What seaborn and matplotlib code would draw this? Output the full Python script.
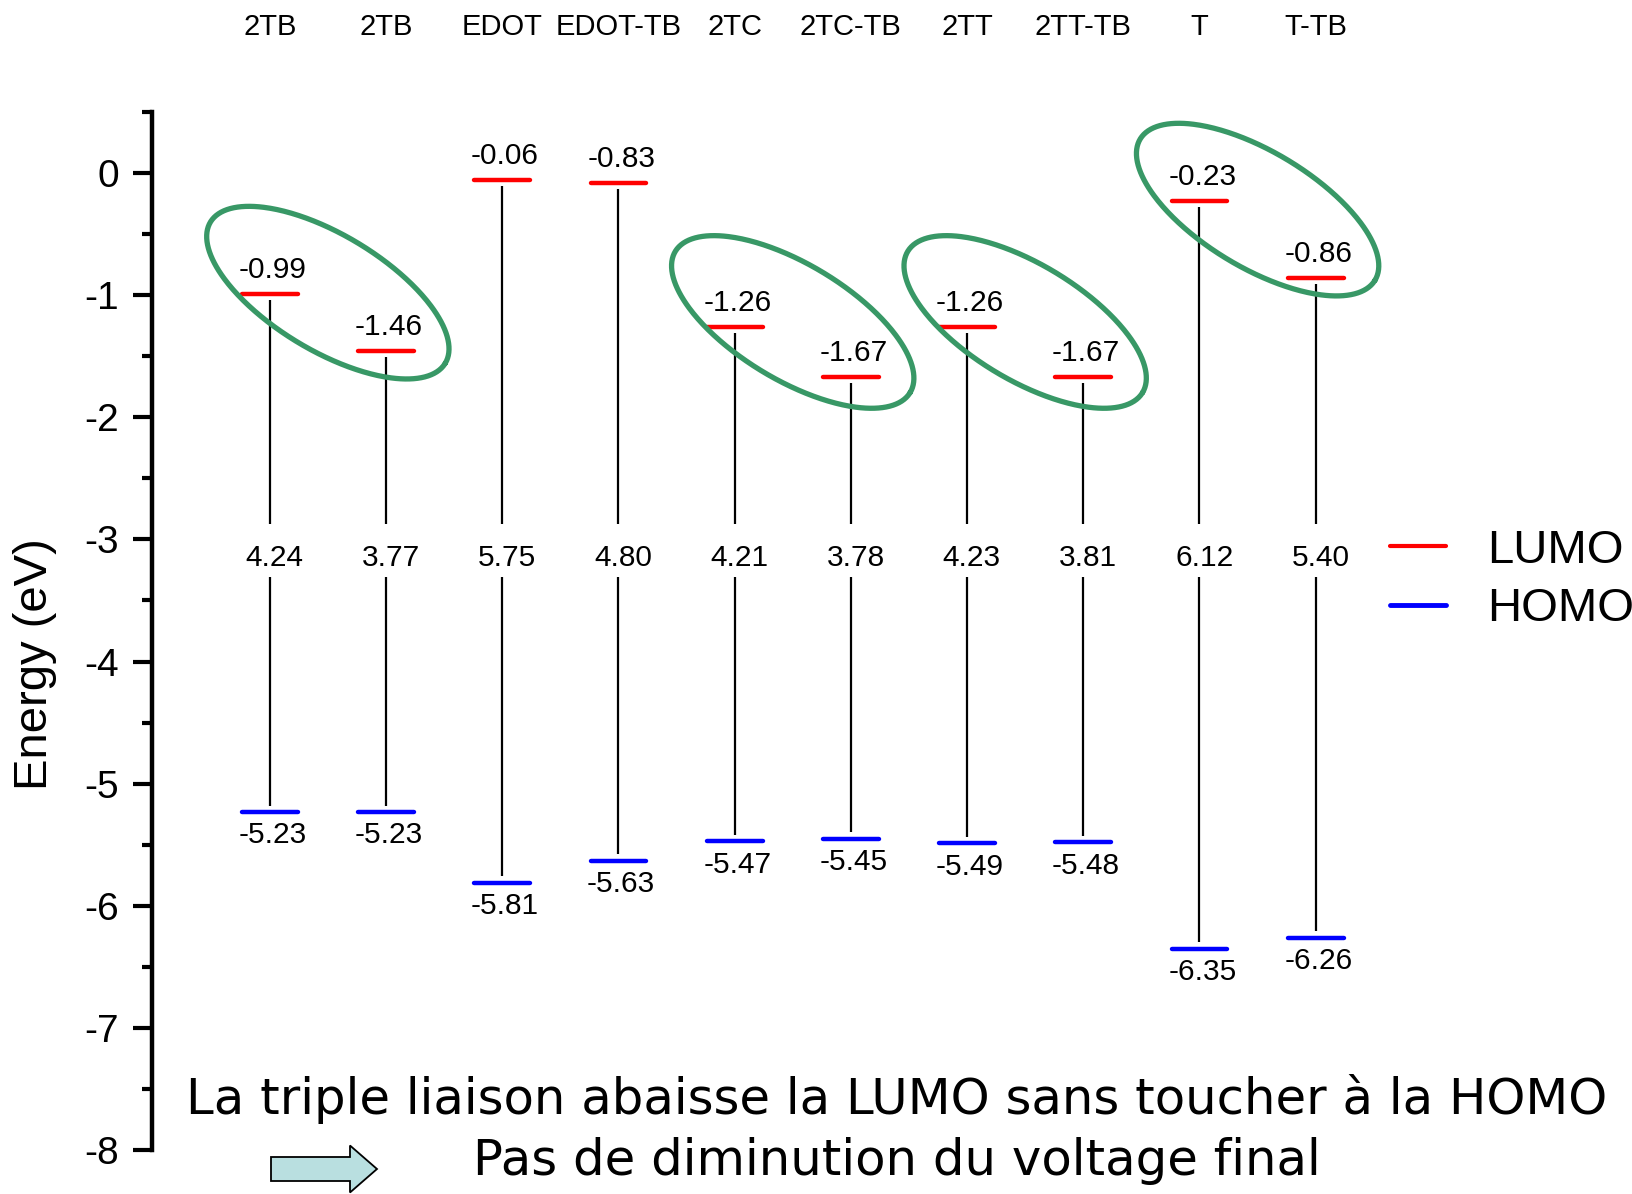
import numpy as np
import pandas as pd
import matplotlib
matplotlib.use("Agg")
import matplotlib.pyplot as plt
import seaborn as sns
from matplotlib.lines import Line2D
from matplotlib.patches import Polygon
from matplotlib.transforms import IdentityTransform

# ---------------- data ----------------
molecules = ["2TB", "2TB", "EDOT", "EDOT-TB", "2TC", "2TC-TB", "2TT", "2TT-TB", "T", "T-TB"]
lumo = [-0.99, -1.46, -0.06, -0.08, -1.26, -1.67, -1.26, -1.67, -0.23, -0.86]
homo = [-5.23, -5.23, -5.81, -5.63, -5.47, -5.45, -5.49, -5.48, -6.35, -6.26]
lumo_labels = ["-0.99", "-1.46", "-0.06", "-0.83", "-1.26", "-1.67", "-1.26", "-1.67", "-0.23", "-0.86"]
homo_labels = ["-5.23", "-5.23", "-5.81", "-5.63", "-5.47", "-5.45", "-5.49", "-5.48", "-6.35", "-6.26"]
gap_labels = ["4.24", "3.77", "5.75", "4.80", "4.21", "3.78", "4.23", "3.81", "6.12", "5.40"]
circled_pairs = [(0, 1), (4, 5), (6, 7), (8, 9)]
yticks = [0, -1, -2, -3, -4, -5, -6, -7, -8]
note_line1 = "La triple liaison abaisse la LUMO sans toucher à la HOMO"
note_line2 = "Pas de diminution du voltage final"

# ---------------- style ----------------
sns.set_theme(style="ticks")
plt.rcParams["font.family"] = ["Liberation Sans", "DejaVu Sans"]
plt.rcParams["axes.unicode_minus"] = False
for k in ["text.color", "axes.labelcolor", "xtick.color", "ytick.color", "axes.edgecolor"]:
    plt.rcParams[k] = "black"

W, H = 1633, 1194
fig = plt.figure(figsize=(W / 100, H / 100), dpi=100)
ax = fig.add_axes([152 / W, 1 - 1150 / H, 1 - 152 / W, (1150 - 112) / H])

xpos = np.arange(len(molecules))
half = 0.24

rows = []
for i in range(len(molecules)):
    for dx in (-half, half):
        rows.append({"x": xpos[i] + dx, "E": lumo[i], "orbital": "LUMO", "col": i})
        rows.append({"x": xpos[i] + dx, "E": homo[i], "orbital": "HOMO", "col": i})
df = pd.DataFrame(rows)

sns.lineplot(data=df, x="x", y="E", hue="orbital", units="col", estimator=None,
             palette={"LUMO": "#ff0000", "HOMO": "#0000ff"}, linewidth=3.2,
             sort=False, legend=False, ax=ax, zorder=3)

# vertical connectors, broken around the gap label
gap_y = -3.15
ax.vlines(xpos, np.array(lumo) - 0.05, -2.87, color="black", lw=1.6, zorder=2)
ax.vlines(xpos, -3.31, np.array(homo) + 0.05, color="black", lw=1.6, zorder=2)

for i in range(len(molecules)):
    ax.annotate(lumo_labels[i], (xpos[i], lumo[i]), xytext=(2, 17.5), textcoords="offset points",
                ha="center", va="center", fontsize=21.5)
    ax.annotate(homo_labels[i], (xpos[i], homo[i]), xytext=(2, -17), textcoords="offset points",
                ha="center", va="center", fontsize=21.5)
    ax.text(xpos[i] + 0.04, gap_y, gap_labels[i], ha="center", va="center", fontsize=21.5)

ax.set_xlim(-1.013, 11.73)
ax.set_ylim(-8, 0.5)

# axes styling
for s in ["top", "right", "bottom"]:
    ax.spines[s].set_visible(False)
ax.spines["left"].set_linewidth(3.2)
ax.spines["left"].set_color("black")
ax.set_yticks(yticks)
ax.set_yticklabels([str(t) for t in yticks])
ax.set_yticks(np.arange(-7.5, 0.51, 1.0), minor=True)
ax.tick_params(axis="y", which="major", length=14, width=3, pad=10, labelsize=28,
               direction="out", color="black", labelcolor="black", left=True)
ax.tick_params(axis="y", which="minor", length=7, width=3, direction="out",
               color="black", left=True)
ax.xaxis.tick_top()
ax.set_xticks(xpos)
ax.set_xticklabels(molecules)
ax.tick_params(axis="x", which="both", length=0, pad=51, labelsize=21, top=True, bottom=False,
               labelcolor="black")
ax.set_xlabel("")
ax.set_ylabel("Energy (eV)", fontsize=34, color="black")
ax.yaxis.set_label_coords(-0.064, 0.468)

# legend
handles = [Line2D([], [], color="#ff0000", lw=3), Line2D([], [], color="#0000ff", lw=3.5)]
leg = ax.legend(handles, ["LUMO", "HOMO"], loc="center left", bbox_to_anchor=(1390 / W, 1 - 580 / H),
                bbox_transform=fig.transFigure, frameon=False, fontsize=34, handlelength=1.19,
                handletextpad=0.87, labelspacing=0.3, borderpad=0, borderaxespad=0)
for txt in leg.get_texts():
    txt.set_color("black")

# green ellipses around LUMO pairs (computed in pixel space)
fig.canvas.draw()
tr = ax.transData
t = np.linspace(0, 2 * np.pi, 400)
a_px, b_px = 137.0, 58.0
ang = np.deg2rad(-31.0)
for (i, j) in circled_pairs:
    p1 = tr.transform((xpos[i], lumo[i]))
    p2 = tr.transform((xpos[j], lumo[j]))
    c = (p1 + p2) / 2 + np.array([0.0, 30.0])
    ex = a_px * np.cos(t)
    ey = b_px * np.sin(t)
    px = c[0] + ex * np.cos(ang) - ey * np.sin(ang)
    py = c[1] + ex * np.sin(ang) + ey * np.cos(ang)
    d = tr.inverted().transform(np.column_stack([px, py]))
    ax.plot(d[:, 0], d[:, 1], color="#389866", lw=3.8, zorder=4, clip_on=False)

# bottom notes
fig.text(897 / W, 1 - 1099 / H, note_line1, ha="center", va="center", fontsize=35.8,
         family=["DejaVu Sans"], color="black")
fig.text(897 / W, 1 - 1161 / H, note_line2, ha="center", va="center", fontsize=35.8,
         family=["DejaVu Sans"], color="black")

# arrow (pixel coordinates)
x0, x1, xh = 271, 377, 350
yc = H - 1169
bw, hw = 12, 23.5
verts = [(x0, yc - bw), (xh, yc - bw), (xh, yc - hw), (x1, yc), (xh, yc + hw),
         (xh, yc + bw), (x0, yc + bw)]
arrow = Polygon(verts, closed=True, facecolor="#b9dfe0", edgecolor="black", lw=1.3,
                transform=IdentityTransform())
fig.add_artist(arrow)

fig.savefig("out.png", dpi=100)
